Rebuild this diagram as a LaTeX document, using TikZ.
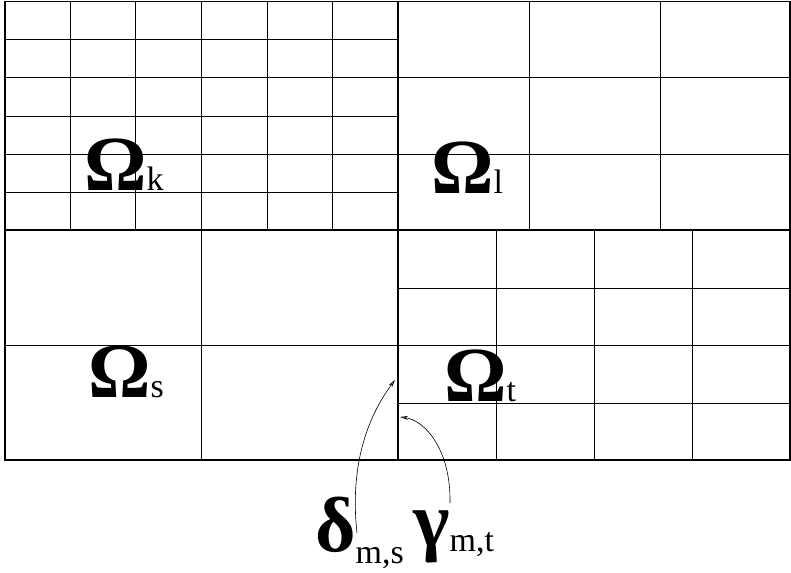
\documentclass[tikz,border=0pt]{standalone}
\usepackage{fontspec}
\setmainfont{Liberation Serif}
\usetikzlibrary{arrows.meta}
\newcommand{\bigsym}[1]{{\fontsize{78}{78}\selectfont\bfseries #1}}
\newcommand{\smallsub}[1]{{\fontsize{34}{34}\selectfont #1}}

\begin{document}
\begin{tikzpicture}[x=1pt, y=-1pt,
  fine/.style={line width=0.7pt},
  coarse/.style={line width=1.4pt},
  lbl/.style={inner sep=0pt, anchor=base west},
  link/.style={line width=0.6pt, -{Stealth[open, length=8pt, width=4pt]}}]
\useasboundingbox (0,0) rectangle (791,572);

% subdomain Omega_k (6x6)
\foreach \x in {70,135,201,267,332} \draw[fine] (\x,1.5) -- (\x,230);
\foreach \y in {39,77,116,154,192} \draw[fine] (5,\y) -- (398,\y);

% subdomain Omega_l (3x3)
\foreach \x in {529,660} \draw[fine] (\x,1.5) -- (\x,230);
\foreach \y in {77,154} \draw[fine] (398,\y) -- (790,\y);

% subdomain Omega_s (2x2)
\draw[fine] (201,230) -- (201,460);
\draw[fine] (5,345) -- (398,345);

% subdomain Omega_t (4x4)
\foreach \x in {496,594,692} \draw[fine] (\x,230) -- (\x,460);
\foreach \y in {288,345,403} \draw[fine] (398,\y) -- (790,\y);

% outer frame and interfaces
\draw[coarse] (5,1.5) rectangle (790,460);
\draw[coarse] (398,1.5) -- (398,460);
\draw[coarse] (5,230) -- (790,230);

% labels
\node[lbl] (omk) at (84,190) {\bigsym{Ω}\smallsub{k}};
\node[lbl] (oml) at (431,193) {\bigsym{Ω}\smallsub{l}};
\node[lbl] (oms) at (88,397) {\bigsym{Ω}\smallsub{s}};
\node[lbl] (omt) at (444,401) {\bigsym{Ω}\smallsub{t}};
\node[lbl] (dms) at (315,551) {\bigsym{δ}\raisebox{-12pt}{\smallsub{m,s}}};
\node[lbl] (gmt) at (413,546) {\bigsym{γ}\raisebox{-5pt}{\smallsub{m,t}}};

% pointers to the interfaces
\coordinate (dfoot) at (357,533);
\coordinate (dtip) at (395,380);
\coordinate (gfoot) at (450,503);
\coordinate (gtip) at (400,417);
\draw[link] (dfoot) .. controls (350,470) and (365,420) .. (dtip);
\draw[link] (gfoot) .. controls (451,450) and (425,420) .. (gtip);
\end{tikzpicture}
\end{document}
